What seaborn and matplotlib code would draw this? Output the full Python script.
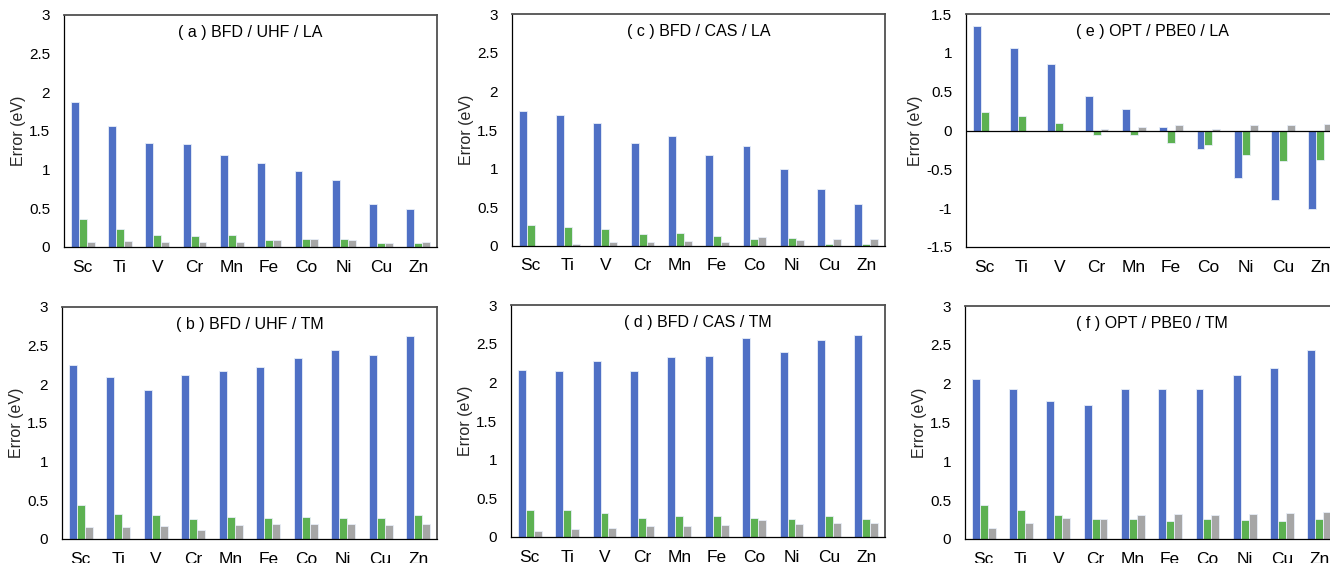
import matplotlib
matplotlib.use("Agg")
import matplotlib.pyplot as plt
import seaborn as sns
import pandas as pd
from matplotlib.ticker import FuncFormatter, MultipleLocator

sns.set_theme(style="white")
plt.rcParams['font.family'] = ['Liberation Sans', 'DejaVu Sans']

elements = ["Sc", "Ti", "V", "Cr", "Mn", "Fe", "Co", "Ni", "Cu", "Zn"]
series_names = ["s1", "s2", "s3"]
colors = ["#4F70C5", "#5DB152", "#A6A6A6"]

# (a) BFD / UHF / LA
a_s1 = [1.88, 1.565, 1.34, 1.33, 1.19, 1.08, 0.98, 0.87, 0.55, 0.49]
a_s2 = [0.36, 0.23, 0.15, 0.14, 0.15, 0.09, 0.10, 0.10, 0.05, 0.05]
a_s3 = [0.07, 0.08, 0.06, 0.07, 0.07, 0.09, 0.10, 0.09, 0.05, 0.06]
# (b) BFD / UHF / TM
b_s1 = [2.255, 2.09, 1.93, 2.125, 2.17, 2.225, 2.34, 2.44, 2.385, 2.625]
b_s2 = [0.443, 0.32, 0.31, 0.26, 0.284, 0.275, 0.284, 0.275, 0.267, 0.31]
b_s3 = [0.155, 0.155, 0.17, 0.12, 0.18, 0.19, 0.19, 0.20, 0.18, 0.19]
# (c) BFD / CAS / LA
c_s1 = [1.74, 1.69, 1.585, 1.33, 1.42, 1.18, 1.29, 1.00, 0.74, 0.54]
c_s2 = [0.27, 0.25, 0.215, 0.15, 0.17, 0.13, 0.095, 0.10, 0.025, 0.03]
c_s3 = [0.0, 0.03, 0.056, 0.056, 0.065, 0.047, 0.12, 0.08, 0.095, 0.09]
# (d) BFD / CAS / TM
d_s1 = [2.165, 2.15, 2.275, 2.15, 2.33, 2.34, 2.577, 2.387, 2.546, 2.615]
d_s2 = [0.345, 0.345, 0.306, 0.242, 0.276, 0.276, 0.242, 0.233, 0.268, 0.233]
d_s3 = [0.073, 0.104, 0.12, 0.147, 0.147, 0.155, 0.224, 0.168, 0.186, 0.186]
# (e) OPT / PBE0 / LA
e_s1 = [1.35, 1.06, 0.86, 0.44, 0.28, 0.04, -0.24, -0.61, -0.89, -1.01]
e_s2 = [0.24, 0.19, 0.095, -0.055, -0.055, -0.155, -0.19, -0.32, -0.395, -0.38]
e_s3 = [0.0, 0.0, 0.0, 0.017, 0.047, 0.07, 0.02, 0.07, 0.077, 0.086]
# (f) OPT / PBE0 / TM
f_s1 = [2.06, 1.925, 1.775, 1.73, 1.925, 1.925, 1.925, 2.11, 2.205, 2.437]
f_s2 = [0.44, 0.375, 0.31, 0.254, 0.254, 0.237, 0.254, 0.245, 0.237, 0.254]
f_s3 = [0.146, 0.207, 0.267, 0.254, 0.31, 0.327, 0.31, 0.327, 0.336, 0.344]

panels = [
    ("( a ) BFD / UHF / LA", (a_s1, a_s2, a_s3), (0, 3), (64, 437, 15, 247)),
    ("( c ) BFD / CAS / LA", (c_s1, c_s2, c_s3), (0, 3), (512, 885, 14, 246)),
    ("( e ) OPT / PBE0 / LA", (e_s1, e_s2, e_s3), (-1.5, 1.5), (966, 1339, 14, 247)),
    ("( b ) BFD / UHF / TM", (b_s1, b_s2, b_s3), (0, 3), (62, 437, 307, 539)),
    ("( d ) BFD / CAS / TM", (d_s1, d_s2, d_s3), (0, 3), (511, 885, 305, 537)),
    ("( f ) OPT / PBE0 / TM", (f_s1, f_s2, f_s3), (0, 3), (965, 1338, 306, 539)),
]

W, H = 1330, 563
fig = plt.figure(figsize=(W / 100, H / 100), dpi=100)

for title, vals, ylim, (x0, x1, y0, y1) in panels:
    ax = fig.add_axes([x0 / W, 1 - y1 / H, (x1 - x0) / W, (y1 - y0) / H])
    rows = []
    for name, v in zip(series_names, vals):
        for el, val in zip(elements, v):
            rows.append({"elem": el, "err": val, "series": name})
    df = pd.DataFrame(rows)
    sns.barplot(data=df, x="elem", y="err", hue="series", order=elements,
                hue_order=series_names, palette=colors, width=0.64,
                saturation=1, legend=False, ax=ax,
                edgecolor="#E8EEF8", linewidth=0.6)
    ax.set_xlim(-0.5, 9.5)
    ax.set_ylim(*ylim)
    ax.yaxis.set_major_locator(MultipleLocator(0.5))
    ax.yaxis.set_major_formatter(FuncFormatter(lambda v, p: f"{v:g}"))
    ax.set_xlabel("")
    ax.set_ylabel("Error (eV)", fontsize=11.5, labelpad=2)
    ax.tick_params(axis="y", direction="in", length=2, width=0.8,
                   labelsize=11, pad=10, colors="black")
    ax.tick_params(axis="x", length=0, labelsize=12.5, pad=9, colors="black")
    for side in ["left", "bottom"]:
        ax.spines[side].set_color("black")
        ax.spines[side].set_linewidth(0.9)
    for side in ["top", "right"]:
        ax.spines[side].set_color("#505050")
        ax.spines[side].set_linewidth(1.3)
    if ylim[0] < 0:
        ax.axhline(0, color="black", linewidth=0.9, zorder=5)
    ax.text(0.5, 0.955, title, transform=ax.transAxes, ha="center",
            va="top", fontsize=11.5, color="black")

fig.savefig("out.png", dpi=100)
